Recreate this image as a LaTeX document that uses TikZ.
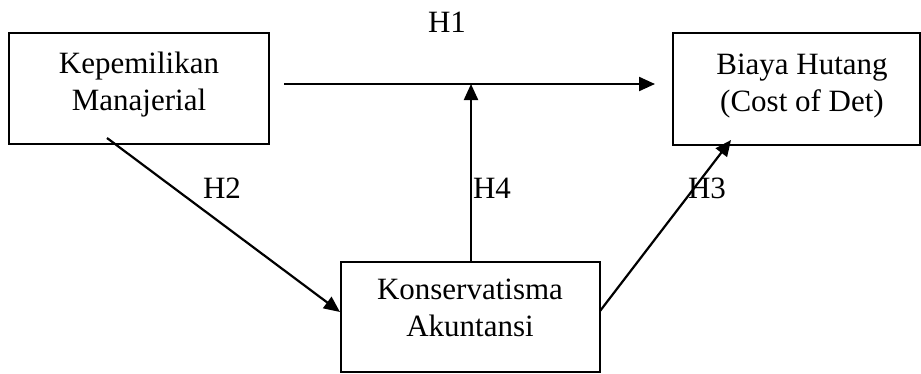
\documentclass[tikz,border=0pt]{standalone}
\usepackage{fontspec}
\setmainfont{Liberation Serif}
\usetikzlibrary{arrows.meta}

\tikzset{
  varbox/.style={draw=black, line width=2pt, rectangle, inner sep=0pt},
  vartext/.style={align=center, inner sep=0pt, font=\fontsize{31}{37}\selectfont},
  hyplabel/.style={anchor=base, inner sep=0pt, font=\fontsize{31}{37}\selectfont},
  link/.style={line width=2.2pt, -{Triangle[length=16pt,width=14pt]}}
}

\begin{document}
\begin{tikzpicture}[x=1pt, y=-1pt]
  \useasboundingbox (0,0) rectangle (921,373);

  % variable boxes
  \node[varbox, minimum width=260pt, minimum height=111pt] (km) at (139,88.5) {};
  \node[varbox, minimum width=247pt, minimum height=112pt] (bh) at (796.5,89) {};
  \node[varbox, minimum width=259pt, minimum height=110pt] (ka) at (470.5,317) {};

  \node[vartext] (kmt) at (139,84.4) {Kepemilikan\\Manajerial};
  \node[vartext] (bht) at (802,85.7) {Biaya Hutang\\(Cost of Det)};
  \node[vartext] (kat) at (470,308) {Konservatisma\\Akuntansi};

  % free ends of the connectors
  \coordinate (h1s) at (284,84);
  \coordinate (h1e) at (655,84);
  \coordinate (h4e) at (471,84);
  \coordinate (h2s) at (107,138);
  \coordinate (h2e) at (340,312);
  \coordinate (h3s) at (600,311);
  \coordinate (h3e) at (731,140);

  % connectors
  \draw[link] (h1s) -- (h1e);
  \draw[link] (ka.north -| h4e) -- (h4e);
  \draw[link] (h2s) -- (h2e);
  \draw[link] (h3s) -- (h3e);

  % hypothesis labels
  \node[hyplabel] (l1) at (447,32) {H1};
  \node[hyplabel] (l2) at (222,198) {H2};
  \node[hyplabel] (l3) at (707,198) {H3};
  \node[hyplabel] (l4) at (492,198) {H4};
\end{tikzpicture}
\end{document}
